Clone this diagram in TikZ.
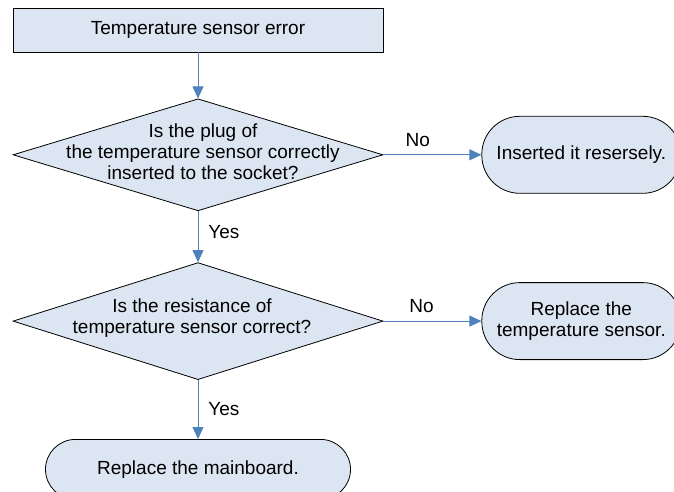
\documentclass[tikz,border=0pt]{standalone}
\usepackage{fontspec}
\setmainfont{Liberation Sans}
\usetikzlibrary{shapes.geometric, arrows.meta, positioning}
\usepackage{xcolor}
\definecolor{boxfill}{RGB}{220,230,242}
\definecolor{flowblue}{RGB}{79,129,189}

\begin{document}
\begin{tikzpicture}[
    x=1pt, y=-1pt,
    font=\fontsize{19}{21}\selectfont,
    block/.style={rectangle, draw, fill=boxfill, line width=0.8pt, minimum width=370pt, minimum height=44pt, inner sep=0pt},
    decision/.style={diamond, draw, fill=boxfill, line width=0.8pt, minimum width=370pt, inner sep=0pt},
    terminal/.style={rectangle, draw, fill=boxfill, line width=0.8pt, align=center, inner sep=0pt},
    answer/.style={inner sep=2pt},
    arrow/.style={-{Triangle[length=12pt, width=11pt]}, draw=flowblue, fill=flowblue, line width=0.8pt}
]
    \useasboundingbox (0,0) rectangle (674,491);
    \clip (0,0) rectangle (674,491);

    \node[block] (error) at (198,30) {Temperature sensor error};
    \node[decision, minimum height=112pt, below=46pt of error] (plug) {};
    \node[align=center] (plugtext) at (203,152) {Is the plug of\\the temperature sensor correctly\\inserted to the socket?};
    \node[terminal, minimum width=199pt, minimum height=77pt, rounded corners=38pt, right=98pt of plug] (reverse) {Inserted it resersely.};

    \node[decision, minimum height=117pt, below=51pt of plug] (resist) {};
    \node[align=center] (resisttext) at (192,318) {Is the resistance of\\temperature sensor correct?};
    \node[terminal, minimum width=199pt, minimum height=77pt, rounded corners=38pt, right=98pt of resist] (sensor) {Replace the\\temperature sensor.};

    \node[terminal, minimum width=305pt, minimum height=60pt, rounded corners=30pt, below=59pt of resist] (mainboard) {Replace the mainboard.};

    \draw[arrow] (error) -- (plug);
    \draw[arrow] (plug) -- node[answer, above=6pt, pos=0.35] {No} (reverse);
    \draw[arrow] (plug) -- node[answer, right=8pt, pos=0.4] {Yes} (resist);
    \draw[arrow] (resist) -- node[answer, above=6pt, pos=0.39] {No} (sensor);
    \draw[arrow] (resist) -- node[answer, right=8pt, pos=0.5] {Yes} (mainboard);
\end{tikzpicture}
\end{document}
